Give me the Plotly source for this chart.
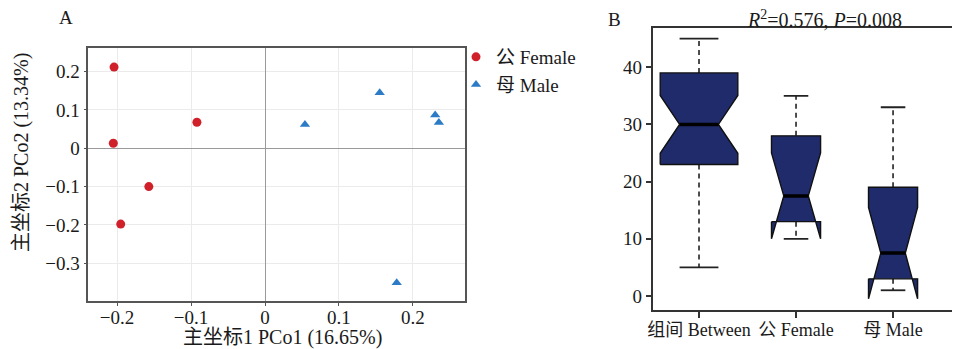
import numpy as np
import plotly.graph_objects as go

# ---------------- Panel A data (PCoA scores) ----------------
female_pco1 = [-0.204, -0.205, -0.092, -0.157, -0.195]
female_pco2 = [0.212, 0.013, 0.068, -0.100, -0.198]
male_pco1 = [0.054, 0.155, 0.230, 0.235, 0.178]
male_pco2 = [0.062, 0.145, 0.087, 0.067, -0.351]
pco_ticks = [-0.3, -0.2, -0.1, 0, 0.1, 0.2]
pco_ticktext = ["\u22120.3", "\u22120.2", "\u22120.1", "0", "0.1", "0.2"]

# ---------------- Panel B data (box statistics) ----------------
groups = ["组间 Between", "公 Female", "母 Male"]
g_min = [5, 10, 1]
g_q1 = [23, 13, 3]
g_med = [30, 17.5, 7.5]
g_q3 = [39, 28, 19]
g_max = [45, 35, 33]
g_n = [25, 10, 10]
dist_ticks = [0, 10, 20, 30, 40]

SERIF = "Liberation Serif, Noto Sans CJK SC, serif"
RED = "#d0202a"
BLUE = "#2b7bc6"
NAVY = "#1f2b6b"

# page has an 8px body margin; lay out in screen pixels
OFF = 8
FW, FH = 960 - OFF, 349 - OFF


def sx(x):
    return (x - OFF) / FW


def sy(y):
    return 1 - (y - OFF) / FH


fig = go.Figure()

# ---- Panel A scatter ----
fig.add_trace(go.Scatter(
    x=female_pco1, y=female_pco2, mode="markers", name="公 Female",
    marker=dict(symbol="circle", size=9, color=RED),
    xaxis="x", yaxis="y"))
fig.add_trace(go.Scatter(
    x=male_pco1, y=male_pco2, mode="markers", name="母 Male",
    marker=dict(symbol="triangle-up", size=9, color=BLUE),
    xaxis="x", yaxis="y"))

# ---- Panel B notched boxes (R style, varwidth) ----
nmax = max(g_n)
wx, wy, cx, cy, mx, my = [], [], [], [], [], []
box_traces = []
for i in range(len(groups)):
    c = i + 1
    w = 0.4 * np.sqrt(g_n[i] / nmax)
    wn = w * 0.5
    notch = 1.58 * (g_q3[i] - g_q1[i]) / np.sqrt(g_n[i])
    nl, nu = g_med[i] - notch, g_med[i] + notch
    q1, q3, md = g_q1[i], g_q3[i], g_med[i]
    wx += [c, c, None, c, c, None]
    wy += [g_q3[i], g_max[i], None, g_q1[i], g_min[i], None]
    cx += [c - w / 2, c + w / 2, None, c - w / 2, c + w / 2, None]
    cy += [g_max[i], g_max[i], None, g_min[i], g_min[i], None]
    mx += [c - wn, c + wn, None]
    my += [md, md, None]
    px = [c - w, c - w, c - wn, c - w, c - w, c + w, c + w, c + wn, c + w, c + w, c - w]
    py = [q1, nl, md, nu, q3, q3, nu, md, nl, q1, q1]
    box_traces.append(go.Scatter(
        x=px, y=py, mode="lines", fill="toself", fillcolor=NAVY,
        line=dict(color="#111111", width=1.4), showlegend=False,
        hoverinfo="skip", xaxis="x2", yaxis="y2"))

fig.add_trace(go.Scatter(x=wx, y=wy, mode="lines", showlegend=False,
                         line=dict(color="#222222", width=1.6, dash="5px,4px"),
                         xaxis="x2", yaxis="y2", hoverinfo="skip"))
for t in box_traces:
    fig.add_trace(t)
fig.add_trace(go.Scatter(x=cx, y=cy, mode="lines", showlegend=False,
                         line=dict(color="#222222", width=1.8),
                         xaxis="x2", yaxis="y2", hoverinfo="skip"))
fig.add_trace(go.Scatter(x=mx, y=my, mode="lines", showlegend=False,
                         line=dict(color="#000000", width=3.5),
                         xaxis="x2", yaxis="y2", hoverinfo="skip"))

fig.update_layout(
    width=FW, height=FH,
    margin=dict(l=0, r=0, t=0, b=0, autoexpand=False),
    paper_bgcolor="white", plot_bgcolor="white",
    font=dict(family=SERIF, size=19, color="#1a1a1a"),
    showlegend=True,
    legend=dict(x=sx(456), y=sy(38), xanchor="left", yanchor="top",
                bgcolor="rgba(0,0,0,0)", font=dict(size=19, family=SERIF),
                itemwidth=30, tracegroupgap=0),
    xaxis=dict(domain=[sx(88.3), sx(465)], range=[-0.2388, 0.2703],
               tickvals=pco_ticks, ticktext=pco_ticktext, automargin=False,
               showline=True, linecolor="#555555", linewidth=1.5, mirror=True,
               ticks="outside", ticklen=3, tickcolor="#555555", tickangle=0,
               ticklabelstandoff=-5,
               showgrid=True, gridcolor="#ebebeb", gridwidth=1,
               zeroline=True, zerolinecolor="#9a9a9a", zerolinewidth=1.3,
               anchor="y", tickfont=dict(size=19, family=SERIF)),
    yaxis=dict(domain=[sy(301), sy(48.3)], range=[-0.3987, 0.261],
               tickvals=pco_ticks, ticktext=pco_ticktext, automargin=False,
               showline=True, linecolor="#555555", linewidth=1.5, mirror=True,
               ticks="outside", ticklen=3, tickcolor="#555555",
               showgrid=True, gridcolor="#ebebeb", gridwidth=1,
               zeroline=True, zerolinecolor="#9a9a9a", zerolinewidth=1.3,
               anchor="x", tickfont=dict(size=19, family=SERIF)),
    xaxis2=dict(domain=[sx(652.7), 1.0], range=[0.5227, 3.69],
                tickvals=[1, 2, 3], ticktext=groups, automargin=False,
                showline=True, linecolor="#333333", linewidth=1.8, mirror=True,
                ticks="outside", ticklen=6, tickcolor="#333333", tickwidth=1.5,
                tickangle=0, ticklabelstandoff=-4,
                showgrid=False, zeroline=False, anchor="y2",
                tickfont=dict(size=18, family=SERIF)),
    yaxis2=dict(domain=[sy(310), sy(28.3)], range=[-2.45, 46.8],
                tickvals=dist_ticks, automargin=False,
                showline=True, linecolor="#333333", linewidth=1.8, mirror=False,
                ticks="outside", ticklen=5, tickcolor="#333333", tickwidth=1.5,
                showgrid=False, zeroline=False, anchor="x2",
                tickfont=dict(size=19, family=SERIF)),
    annotations=[
        dict(text="A", x=sx(66), y=sy(18), xref="paper", yref="paper",
             xanchor="center", yanchor="middle",
             showarrow=False, font=dict(size=19)),
        dict(text="B", x=sx(614), y=sy(20), xref="paper", yref="paper",
             xanchor="center", yanchor="middle",
             showarrow=False, font=dict(size=19)),
        dict(text="<i>R</i><sup>2</sup>=0.576, <i>P</i>=0.008",
             x=sx(824), y=sy(19), xref="paper", yref="paper",
             xanchor="center", yanchor="middle",
             showarrow=False, font=dict(size=20)),
        dict(text="主坐标1 PCo1 (16.65%)", x=sx(282), y=sy(337),
             xref="paper", yref="paper", xanchor="center", yanchor="middle",
             showarrow=False, font=dict(size=20)),
        dict(text="主坐标2 PCo2 (13.34%)", x=sx(21), y=sy(153),
             xref="paper", yref="paper", xanchor="center", yanchor="middle",
             showarrow=False, textangle=-90, font=dict(size=20)),
    ],
)

fig.write_html("out.html")
